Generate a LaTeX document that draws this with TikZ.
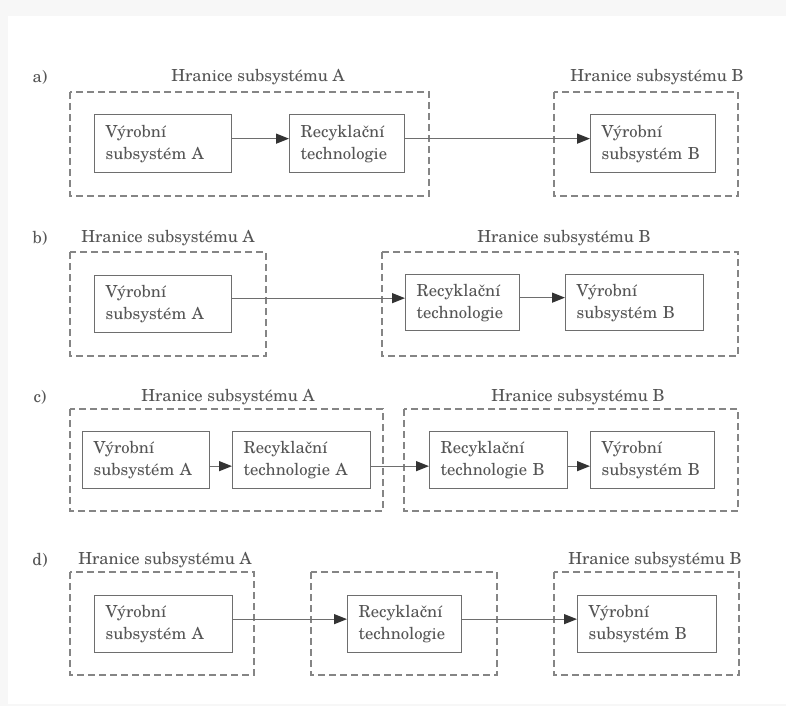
\documentclass[tikz,border=0pt]{standalone}
\usepackage{fontspec}
\IfFontExistsTF{TeX Gyre Schola}
  {\setmainfont{TeX Gyre Schola}\newcommand\myfs{\fontsize{16.6}{22}\selectfont}}
  {\setmainfont{Liberation Serif}\newcommand\myfs{\fontsize{19}{22}\selectfont}}
\usetikzlibrary{arrows.meta}
\definecolor{txt}{HTML}{555555}
\definecolor{ln}{HTML}{6E6E6E}
\definecolor{dl}{HTML}{858585}
\definecolor{ah}{HTML}{333333}
\tikzset{
  bx/.style n args={3}{draw=ln, line width=1.3pt, text=txt, align=left,
    minimum width=#1pt, minimum height=#2pt, text width=#3pt,
    inner xsep=11pt, inner ysep=0pt, anchor=north west,
    font=\myfs},
  bound/.style={draw=dl, line width=1.2pt, dash pattern=on 7pt off 4pt},
  ttl/.style={text=txt, font=\myfs, inner sep=0pt},
  lbl/.style={text=txt, font=\myfs, inner sep=0pt},
  flow/.style={draw=ln, line width=1.3pt, -{Triangle[length=13pt,width=10pt,color=ah]}}
}
\begin{document}
\begin{tikzpicture}[x=1pt,y=-1pt]
\useasboundingbox (0,0) rectangle (786,706);
\fill[black!3] (0,0) rectangle (786,706);
\fill[white] (8,16) rectangle (786,704);

% ---------- a) ----------
\node[lbl] (la) at (40,77) {a)};
\draw[bound] (70,92) rectangle (429,196);
\draw[bound] (554,92) rectangle (738,196);
\node[ttl] (ta1) at (258,77) {Hranice subsystému A};
\node[ttl] (ta2) at (657,77) {Hranice subsystému B};
\node[bx={137}{58}{115}] (a1) at (94,114) {Výrobní\\subsystém A};
\node[bx={115}{58}{93}] (a2) at (289,114) {Recyklační\\technologie};
\node[bx={125}{58}{103}] (a3) at (590,114) {Výrobní\\subsystém B};
\draw[flow] ([yshift=5pt]a1.east) -- ([yshift=5pt]a2.west);
\draw[flow] ([yshift=5pt]a2.east) -- ([yshift=5pt]a3.west);

% ---------- b) ----------
\node[lbl] (lb) at (40,238) {b)};
\draw[bound] (70,252) rectangle (266,356);
\draw[bound] (382,252) rectangle (738,356);
\node[ttl] (tb1) at (168,238) {Hranice subsystému A};
\node[ttl] (tb2) at (564,238) {Hranice subsystému B};
\node[bx={137}{57}{115}] (b1) at (94,275) {Výrobní\\subsystém A};
\node[bx={114}{56}{92}] (b2) at (405,274) {Recyklační\\technologie};
\node[bx={138}{56}{116}] (b3) at (565,274) {Výrobní\\subsystém B};
\draw[flow] ([yshift=6pt]b1.east) -- ([yshift=6pt]b1.east -| b2.west);
\draw[flow] ([yshift=5pt]b2.east) -- ([yshift=5pt]b3.west);

% ---------- c) ----------
\node[lbl] (lc) at (40,397) {c)};
\draw[bound] (70,409) rectangle (383,511);
\draw[bound] (404,409) rectangle (738,511);
\node[ttl] (tc1) at (228,397) {Hranice subsystému A};
\node[ttl] (tc2) at (578,397) {Hranice subsystému B};
\node[bx={127}{57}{105}] (c1) at (82,431) {Výrobní\\subsystém A};
\node[bx={138}{57}{116}] (c2) at (232,431) {Recyklační\\technologie A};
\node[bx={138}{57}{116}] (c3) at (429,431) {Recyklační\\technologie B};
\node[bx={124}{57}{102}] (c4) at (590,431) {Výrobní\\subsystém B};
\draw[flow] ([yshift=-6pt]c1.east) -- ([yshift=-6pt]c2.west);
\draw[flow] ([yshift=-6pt]c2.east) -- ([yshift=-6pt]c3.west);
\draw[flow] ([yshift=-6pt]c3.east) -- ([yshift=-6pt]c4.west);

% ---------- d) ----------
\node[lbl] (ld) at (40,560) {d)};
\draw[bound] (70,572) rectangle (254,675);
\draw[bound] (311,572) rectangle (497,675);
\draw[bound] (554,572) rectangle (739,675);
\node[ttl] (td1) at (165,560) {Hranice subsystému A};
\node[ttl] (td2) at (655,560) {Hranice subsystému B};
\node[bx={138}{57}{116}] (d1) at (94,595) {Výrobní\\subsystém A};
\node[bx={114}{57}{92}] (d2) at (347,595) {Recyklační\\technologie};
\node[bx={139}{57}{117}] (d3) at (577,595) {Výrobní\\subsystém B};
\draw[flow] ([yshift=5pt]d1.east) -- ([yshift=5pt]d2.west);
\draw[flow] ([yshift=5pt]d2.east) -- ([yshift=5pt]d3.west);
\end{tikzpicture}
\end{document}
